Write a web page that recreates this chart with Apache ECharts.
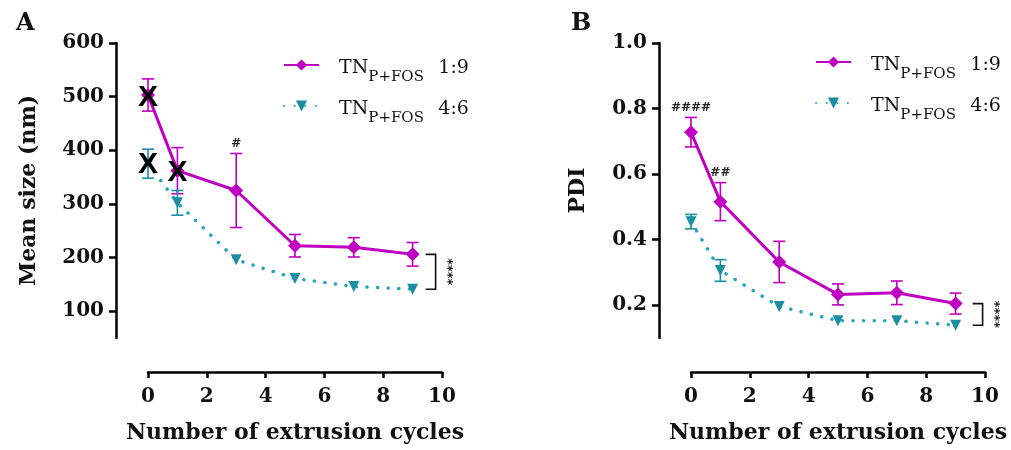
<!DOCTYPE html>
<html>
<head>
<meta charset="utf-8">
<script src="https://cdn.jsdelivr.net/npm/echarts@6/dist/echarts.min.js"></script>
<style>
  html, body { margin: 0; background: #fff; }
  #main { width: 1011px; height: 450px; }
</style>
</head>
<body>
<div id="main"></div>
<script>
// data
var cycles = [0, 1, 3, 5, 7, 9];
var ratios = ['1:9', '4:6'];
var xTicks = [0, 2, 4, 6, 8, 10];

// panel A, mean size (nm)
var size19 = [503, 362, 325, 222, 219, 206];
var size19Err = [30, 43, 69, 21, 18, 22];
var size46 = [375, 302, 196, 161, 146, 141];
var size46Err = [27, 23, 0, 0, 0, 0];
var sizeTicks = [100, 200, 300, 400, 500, 600];
var sizeCrossed = [[0, 500], [0, 375], [1, 360]];   // points struck out with X
var sizeHash = [[3, '#']];

// panel B, PDI
var pdi19 = [0.728, 0.516, 0.332, 0.233, 0.238, 0.205];
var pdi19Err = [0.045, 0.058, 0.063, 0.032, 0.036, 0.032];
var pdi46 = [0.455, 0.306, 0.196, 0.153, 0.153, 0.139];
var pdi46Err = [0.022, 0.033, 0, 0, 0, 0];
var pdiTicks = [0.2, 0.4, 0.6, 0.8, 1.0];
var pdiHash = [[0, '####'], [1, '##']];

var MAG = '#C000C0';
var TEAL = '#1B8FA1';
var TEAL_LINE = '#25A6B9';
var SERIF = 'DejaVu Serif';

var names = ratios.map(function (r) { return 'TNP+FOS ' + r; });

function zip(xs, ys) {
  return xs.map(function (x, i) { return [x, ys[i]]; });
}
function errData(xs, ys, es) {
  var out = [];
  xs.forEach(function (x, i) {
    if (es[i] > 0) out.push([x, ys[i] - es[i], ys[i] + es[i]]);
  });
  return out;
}

function renderErr(params, api) {
  var x = api.value(0);
  var lo = api.coord([x, api.value(1)]);
  var hi = api.coord([x, api.value(2)]);
  var w = 6;
  var st = { stroke: api.visual('color'), lineWidth: 1.6 };
  return {
    type: 'group',
    children: [
      { type: 'line', shape: { x1: hi[0], y1: hi[1], x2: lo[0], y2: lo[1] }, style: st },
      { type: 'line', shape: { x1: hi[0] - w, y1: hi[1], x2: hi[0] + w, y2: hi[1] }, style: st },
      { type: 'line', shape: { x1: lo[0] - w, y1: lo[1], x2: lo[0] + w, y2: lo[1] }, style: st }
    ]
  };
}

function errSeries(gi, xs, ys, es, color) {
  return {
    type: 'custom', xAxisIndex: gi, yAxisIndex: gi,
    data: errData(xs, ys, es),
    itemStyle: { color: color },
    renderItem: renderErr, z: 2, silent: true
  };
}

function lineSeries(gi, k, ys) {
  var s = {
    name: names[k], type: 'line', xAxisIndex: gi, yAxisIndex: gi,
    data: zip(cycles, ys), clip: false, z: 3
  };
  if (k === 0) {
    s.symbol = 'diamond';
    s.symbolSize = 14;
    s.itemStyle = { color: MAG };
    s.lineStyle = { color: MAG, width: 3 };
  } else {
    s.symbol = 'triangle';
    s.symbolRotate = 180;
    s.symbolSize = 11;
    s.itemStyle = { color: TEAL };
    s.lineStyle = { color: TEAL_LINE, width: 3.5, type: [0.1, 10.5], cap: 'round' };
  }
  return s;
}

// # labels above error bars
function hashSeries(gi, marks, xs, ys, es) {
  return {
    type: 'custom', xAxisIndex: gi, yAxisIndex: gi, silent: true, z: 4,
    data: marks.map(function (m) {
      var i = xs.indexOf(m[0]);
      return [m[0], ys[i] + es[i], m[1]];
    }),
    renderItem: function (params, api) {
      var p = api.coord([api.value(0), api.value(1)]);
      return {
        type: 'text',
        style: {
          text: marks[params.dataIndex][1], x: p[0], y: p[1] - 4,
          align: 'center', verticalAlign: 'bottom',
          font: 'bold 12px "DejaVu Sans"', fill: '#222'
        }
      };
    }
  };
}

// bracket between the last points with ****
function bracketSeries(gi, top, bottom, dx) {
  return {
    type: 'custom', xAxisIndex: gi, yAxisIndex: gi, silent: true, z: 4,
    data: [[cycles[cycles.length - 1], top, bottom]],
    renderItem: function (params, api) {
      var a = api.coord([api.value(0), api.value(1)]);
      var b = api.coord([api.value(0), api.value(2)]);
      var x = a[0] + dx;
      var st = { stroke: '#111', lineWidth: 1.6, fill: null };
      return {
        type: 'group',
        children: [
          { type: 'polyline', shape: { points: [[x - 10, a[1]], [x, a[1]], [x, b[1]], [x - 10, b[1]]] }, style: st },
          {
            type: 'text', x: x + 12, y: (a[1] + b[1]) / 2, rotation: -Math.PI / 2,
            style: { text: '****', align: 'center', verticalAlign: 'middle', font: 'bold 13px "DejaVu Sans"', fill: '#222' }
          }
        ]
      };
    }
  };
}

function crossSeries(gi, pts) {
  return {
    type: 'custom', xAxisIndex: gi, yAxisIndex: gi, silent: true, z: 6,
    data: pts,
    renderItem: function (params, api) {
      var p = api.coord([api.value(0), api.value(1)]);
      return {
        type: 'text',
        style: {
          text: 'X', x: p[0], y: p[1] + 1, align: 'center', verticalAlign: 'middle',
          font: 'bold 30px "Liberation Sans"', fill: '#000'
        }
      };
    }
  };
}

function xAxisCfg(gi) {
  return {
    gridIndex: gi, type: 'value', min: 0, max: 10, interval: 2, offset: 34,
    axisLine: { onZero: false, lineStyle: { color: '#000', width: 2.5 } },
    axisTick: { length: 6, lineStyle: { color: '#000', width: 2.5 } },
    axisLabel: { fontFamily: SERIF, fontWeight: 'bold', fontSize: 20, color: '#111', margin: 15 },
    splitLine: { show: false },
    name: 'Number of extrusion cycles', nameLocation: 'middle', nameGap: 50,
    nameTextStyle: { fontFamily: SERIF, fontWeight: 'bold', fontSize: 22, color: '#111' }
  };
}

function yAxisCfg(gi, min, max, ticks, name, gap, fmt) {
  return {
    gridIndex: gi, type: 'value', min: min, max: max, offset: 32,
    axisLine: { show: true, onZero: false, lineStyle: { color: '#000', width: 2.5 } },
    axisTick: { show: true, length: 7, customValues: ticks, lineStyle: { color: '#000', width: 2.5 } },
    axisLabel: {
      customValues: ticks, fontFamily: SERIF, fontWeight: 'bold', fontSize: 20, color: '#111', margin: 12,
      formatter: fmt
    },
    splitLine: { show: false },
    name: name, nameLocation: 'middle', nameGap: gap,
    nameTextStyle: { fontFamily: SERIF, fontWeight: 'bold', fontSize: 22, color: '#111' }
  };
}

function legendCfg(left, top) {
  return {
    orient: 'vertical', left: left, top: top, padding: 0,
    itemWidth: 35, itemHeight: 14, itemGap: 6,
    data: names,
    formatter: function (n) {
      return '{s| }{a|TN}{b|P+FOS}{a|' + n.split(' ')[1] + '}';
    },
    textStyle: {
      rich: {
        s: { width: 15, lineHeight: 30, padding: [9, 0, 0, 0], verticalAlign: 'top' },
        a: { fontFamily: SERIF, fontSize: 19, color: '#111', lineHeight: 30, padding: [9, 0, 0, 0], verticalAlign: 'top' },
        b: { fontFamily: SERIF, fontSize: 15, color: '#111', lineHeight: 13, padding: [20, 0, 0, 0], width: 70, verticalAlign: 'top' }
      }
    }
  };
}

var chart = echarts.init(document.getElementById('main'));
chart.setOption({
  animation: false,
  backgroundColor: '#fff',
  title: [
    { text: 'A', left: 11, top: 7, textStyle: { fontFamily: SERIF, fontWeight: 'bold', fontSize: 24, color: '#111' } },
    { text: 'B', left: 566, top: 7, textStyle: { fontFamily: SERIF, fontWeight: 'bold', fontSize: 24, color: '#111' } }
  ],
  legend: [legendCfg(283, 50), legendCfg(815, 47)],
  grid: [
    { left: 148, top: 43, width: 294, height: 295 },
    { left: 691, top: 43, width: 294, height: 295 }
  ],
  xAxis: [xAxisCfg(0), xAxisCfg(1)],
  yAxis: [
    yAxisCfg(0, 50, 600, sizeTicks, 'Mean size (nm)', 76, function (v) { return v; }),
    yAxisCfg(1, 0.1, 1.0, pdiTicks, 'PDI', 70, function (v) { return v.toFixed(1); })
  ],
  series: [
    errSeries(0, cycles, size19, size19Err, MAG),
    errSeries(0, cycles, size46, size46Err, TEAL),
    lineSeries(0, 0, size19),
    lineSeries(0, 1, size46),
    hashSeries(0, sizeHash, cycles, size19, size19Err),
    bracketSeries(0, size19[size19.length - 1], size46[size46.length - 1], 23),
    crossSeries(0, sizeCrossed),

    errSeries(1, cycles, pdi19, pdi19Err, MAG),
    errSeries(1, cycles, pdi46, pdi46Err, TEAL),
    lineSeries(1, 0, pdi19),
    lineSeries(1, 1, pdi46),
    hashSeries(1, pdiHash, cycles, pdi19, pdi19Err),
    bracketSeries(1, pdi19[pdi19.length - 1], pdi46[pdi46.length - 1], 27)
  ]
});
window.addEventListener('resize', function () { chart.resize(); });
</script>
</body>
</html>
